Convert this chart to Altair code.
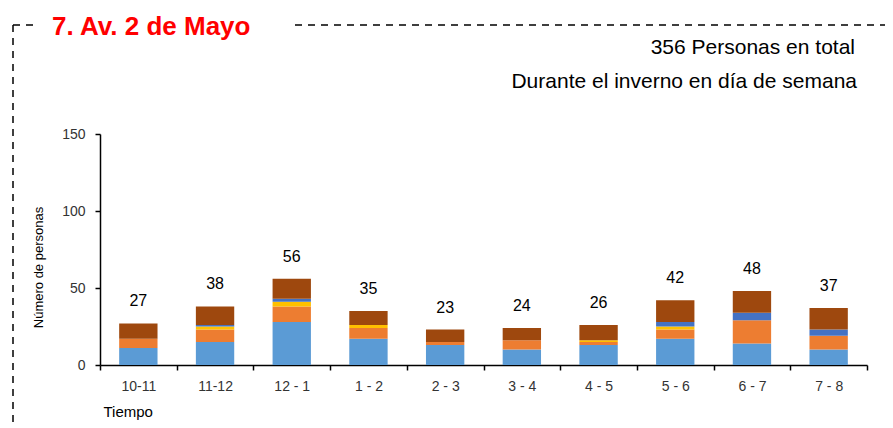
import altair as alt
import pandas as pd

tiempos = ["10-11", "11-12", "12 - 1", "1 - 2", "2 - 3", "3 - 4", "4 - 5", "5 - 6", "6 - 7", "7 - 8"]
grupos = ["Grupo 1", "Grupo 2", "Grupo 3", "Grupo 4", "Grupo 5"]
colores = ["#5B9BD5", "#ED7D31", "#FFC000", "#4472C4", "#9E480E"]

g1 = [11, 15, 28, 17, 13, 10, 13, 17, 14, 10]
g2 = [6, 8, 10, 7, 2, 6, 2, 6, 15, 9]
g3 = [0, 2, 3, 2, 0, 0, 1, 2, 0, 0]
g4 = [0, 1, 2, 0, 0, 0, 0, 3, 5, 4]
g5 = [10, 12, 13, 9, 8, 8, 10, 14, 14, 14]

series = [g1, g2, g3, g4, g5]
rows = []
for k, (g, vals) in enumerate(zip(grupos, series)):
    for t, v in zip(tiempos, vals):
        rows.append({"Tiempo": t, "Grupo": g, "orden": k, "Personas": v})
df = pd.DataFrame(rows)
tot = pd.DataFrame({"Tiempo": tiempos, "Total": [sum(s[i] for s in series) for i in range(len(tiempos))]})

FONT = "Liberation Sans"

x_enc = alt.X("Tiempo:N", sort=tiempos,
              scale=alt.Scale(paddingInner=0, paddingOuter=0),
              axis=alt.Axis(title="Tiempo", tickBand="extent", tickSize=5, labelPadding=20,
                            labelBaseline="alphabetic", labelFontSize=14, labelColor="#333333",
                            labelFont=FONT, labelAngle=0, domainColor="black", domainWidth=1.5,
                            tickColor="black", tickWidth=1.5, titleFont=FONT, titleFontSize=15,
                            titleFontWeight="normal", titleX=3, titleY=51, titleAlign="left",
                            titleBaseline="alphabetic", titleColor="black"))

bars = alt.Chart(df).mark_bar(width=alt.RelativeBandSize(0.5)).encode(
    x=x_enc,
    y=alt.Y("Personas:Q", stack="zero",
            scale=alt.Scale(domain=[0, 150], nice=False),
            axis=alt.Axis(values=[0, 50, 100, 150], tickSize=5, labelPadding=10, grid=False,
                          labelFontSize=14, labelFont=FONT, labelColor="#333333",
                          domainColor="black", domainWidth=1.5, tickColor="black", tickWidth=1.5,
                          title="Número de personas", titleFont=FONT,
                          titleFontSize=13, titleFontWeight="normal", titleColor="black",
                          titleX=-62, titleY=133, titleAngle=-90, titleAlign="center",
                          titleBaseline="middle")),
    color=alt.Color("Grupo:N", scale=alt.Scale(domain=grupos, range=colores), legend=None),
    order=alt.Order("orden:Q", sort="ascending"),
)

labels = alt.Chart(tot).mark_text(font=FONT, fontSize=16, baseline="alphabetic", dy=-17,
                                  color="black").encode(
    x=alt.X("Tiempo:N", sort=tiempos),
    y=alt.Y("Total:Q"),
    text=alt.Text("Total:Q"),
)

one = pd.DataFrame({"k": [0]})
title = alt.Chart(one).mark_text(text="7. Av. 2 de Mayo", font=FONT, fontSize=26, fontWeight="bold",
                                 color="#FF0000", align="left", baseline="alphabetic").encode(
    x=alt.value(-48), y=alt.value(-99))
sub1 = alt.Chart(one).mark_text(text="356 Personas en total", font=FONT, fontSize=21,
                                color="black", align="right", baseline="alphabetic").encode(
    x=alt.value(755), y=alt.value(-80))
sub2 = alt.Chart(one).mark_text(text="Durante el inverno en día de semana", font=FONT, fontSize=21,
                                color="black", align="right", baseline="alphabetic").encode(
    x=alt.value(757), y=alt.value(-46))

dash = dict(color="black", strokeDash=[7, 6], strokeWidth=1.5)
top_left = alt.Chart(one).mark_rule(**dash).encode(x=alt.value(-87), x2=alt.value(-65), y=alt.value(-109))
top_right = alt.Chart(one).mark_rule(**dash).encode(x=alt.value(195), x2=alt.value(800), y=alt.value(-109))
left = alt.Chart(one).mark_rule(**dash).encode(x=alt.value(-87), y=alt.value(-109), y2=alt.value(300))

chart = alt.layer(bars, labels, title, sub1, sub2, top_left, top_right, left).properties(
    width=767, height=231,
    autosize=alt.AutoSizeParams(type="none"),
    padding={"left": 92, "top": 126, "right": 18, "bottom": 58},
).configure_view(stroke=None)

chart.save("out.html", embed_options={"renderer": "svg", "actions": False})
